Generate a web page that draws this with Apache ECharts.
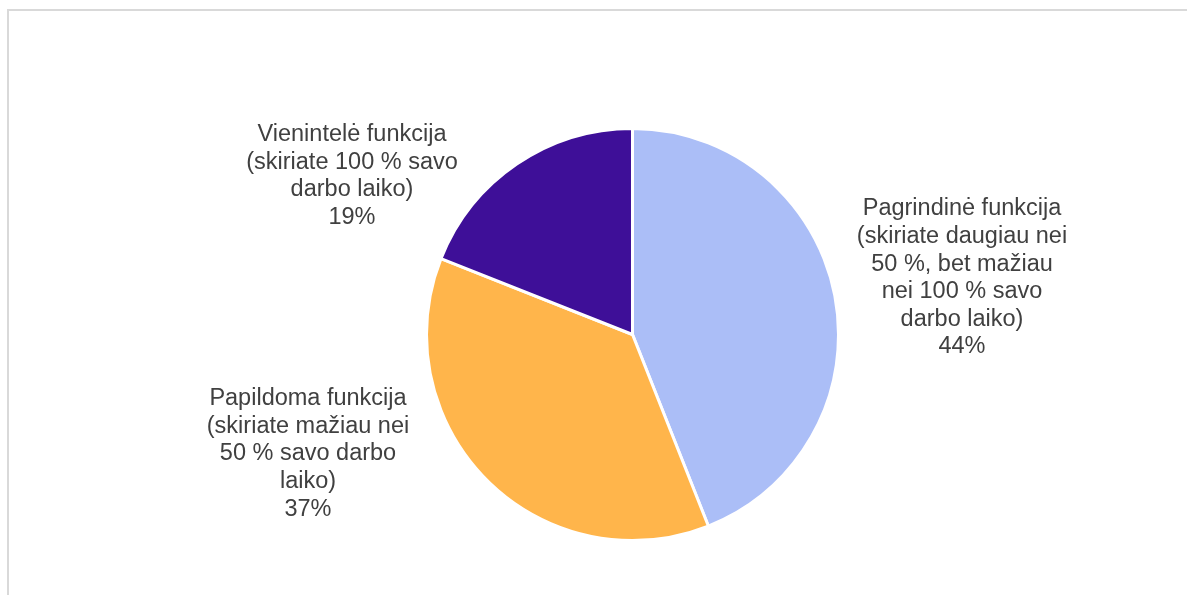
<!DOCTYPE html>
<html>
<head>
<meta charset="utf-8">
<style>
  html, body { margin: 0; padding: 0; background: #ffffff; }
  #chart { width: 1187px; height: 595px; }
</style>
<script src="https://cdn.jsdelivr.net/npm/echarts@6/dist/echarts.min.js"></script>
</head>
<body>
<div id="chart"></div>
<script>
// Share of working time given to the function
const categories = [
  'Pagrindinė funkcija\n(skiriate daugiau nei\n50 %, bet mažiau\nnei 100 % savo\ndarbo laiko)',
  'Papildoma funkcija\n(skiriate mažiau nei\n50 % savo darbo\nlaiko)',
  'Vienintelė funkcija\n(skiriate 100 % savo\ndarbo laiko)'
];
const shares = [44, 37, 19];
const colors = ['#abbef7', '#ffb54b', '#3e0f98'];

// Label block centres, one per slice
const labelSpots = [[962, 278], [308, 454], [352, 176]];

const chart = echarts.init(document.getElementById('chart'));
chart.setOption({
  animation: false,
  graphic: [
    { type: 'line', shape: { x1: 7, y1: 10, x2: 1187, y2: 10 }, style: { stroke: '#d9d9d9', lineWidth: 2 }, silent: true },
    { type: 'line', shape: { x1: 8, y1: 9, x2: 8, y2: 595 }, style: { stroke: '#d9d9d9', lineWidth: 2 }, silent: true }
  ],
  series: [{
    type: 'pie',
    center: [632.5, 334.5],
    radius: 206,
    startAngle: 90,
    clockwise: true,
    data: categories.map((name, i) => ({
      name: name,
      value: shares[i],
      itemStyle: { color: colors[i] }
    })),
    itemStyle: { borderColor: '#ffffff', borderWidth: 3 },
    label: {
      show: true,
      position: 'outside',
      formatter: p => p.name + '\n' + p.value + '%',
      fontFamily: 'Liberation Sans, Arial, sans-serif',
      fontSize: 23.5,
      lineHeight: 27.6,
      color: '#404040',
      align: 'center'
    },
    labelLine: { show: false },
    labelLayout: params => ({
      x: labelSpots[params.dataIndex][0],
      y: labelSpots[params.dataIndex][1],
      align: 'center',
      verticalAlign: 'middle'
    }),
    emphasis: { disabled: true }
  }]
});
</script>
</body>
</html>
